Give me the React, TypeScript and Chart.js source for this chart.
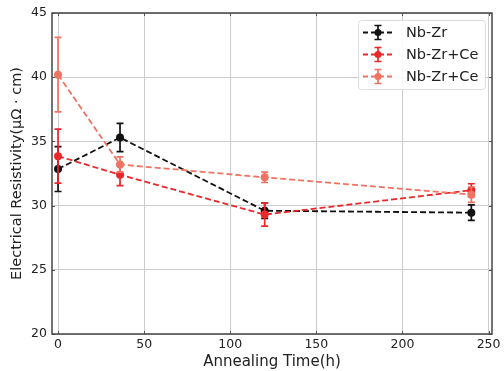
import React, { useEffect, useRef } from "react";
import { Chart, registerables } from "chart.js";

Chart.register(...registerables);

const times = [0, 36, 120, 240];
const seriesLabels = ["Nb-Zr", "Nb-Zr+Ce", "Nb-Zr+Ce"];
const nbZr = [32.85, 35.3, 29.6, 29.45];
const nbZrErr = [1.75, 1.1, 0.6, 0.6];
const nbZrCe1 = [33.85, 32.4, 29.3, 31.2];
const nbZrCe1Err = [2.1, 0.85, 0.9, 0.5];
const nbZrCe2 = [40.2, 33.2, 32.2, 30.85];
const nbZrCe2Err = [2.9, 0.6, 0.4, 0.6];
const xTicks = [0, 50, 100, 150, 200, 250];
const yTicks = [20, 25, 30, 35, 40, 45];

const colors = ["#111111", "#e8282a", "#f07262"];
const errs = [nbZrErr, nbZrCe1Err, nbZrCe2Err];
const FONT = "'DejaVu Sans', sans-serif";

function drawErrorBar(ctx: CanvasRenderingContext2D, x: number, yTop: number, yBot: number, color: string) {
  ctx.save();
  ctx.strokeStyle = color;
  ctx.lineWidth = 1.7;
  ctx.setLineDash([]);
  ctx.beginPath();
  ctx.moveTo(x, yTop);
  ctx.lineTo(x, yBot);
  ctx.moveTo(x - 3.5, yTop);
  ctx.lineTo(x + 3.5, yTop);
  ctx.moveTo(x - 3.5, yBot);
  ctx.lineTo(x + 3.5, yBot);
  ctx.stroke();
  ctx.restore();
}

const errorBarPlugin = {
  id: "errorBars",
  beforeDatasetDraw(chart: any, args: any) {
    const i = args.index;
    const ds = chart.data.datasets[i];
    const e = errs[i];
    const xs = chart.scales.x;
    const ys = chart.scales.y;
    const ctx = chart.ctx;
    ds.data.forEach((p: any, j: number) => {
      const x = xs.getPixelForValue(p.x);
      drawErrorBar(ctx, x, ys.getPixelForValue(p.y + e[j]), ys.getPixelForValue(p.y - e[j]), colors[i]);
    });
  },
};

const legendPlugin = {
  id: "customLegend",
  afterDraw(chart: any) {
    const ctx = chart.ctx;
    const left = 358, top = 20, w = 127, h = 69;
    ctx.save();
    ctx.fillStyle = "rgba(255,255,255,0.85)";
    ctx.strokeStyle = "#dddddd";
    ctx.lineWidth = 1;
    ctx.beginPath();
    ctx.roundRect(left + 0.5, top + 0.5, w, h, 3);
    ctx.fill();
    ctx.stroke();
    chart.data.datasets.forEach((ds: any, i: number) => {
      const y = 32.5 + i * 22;
      ctx.strokeStyle = colors[i];
      ctx.lineWidth = 1.8;
      ctx.setLineDash([5, 3]);
      ctx.beginPath();
      ctx.moveTo(363, y);
      ctx.lineTo(394, y);
      ctx.stroke();
      drawErrorBar(ctx, 378, y - 7, y + 7, colors[i]);
      ctx.fillStyle = colors[i];
      ctx.beginPath();
      ctx.arc(378, y, 3.5, 0, Math.PI * 2);
      ctx.fill();
      ctx.fillStyle = "#222222";
      ctx.font = `14.5px ${FONT}`;
      ctx.textBaseline = "middle";
      ctx.textAlign = "left";
      ctx.fillText(ds.label, 406, y + 1);
    });
    ctx.restore();
  },
};

const borderPlugin = {
  id: "frame",
  afterDatasetsDraw(chart: any) {
    const { left, top, right, bottom } = chart.chartArea;
    const ctx = chart.ctx;
    const xs = chart.scales.x;
    const ys = chart.scales.y;
    ctx.save();
    ctx.strokeStyle = "#555555";
    ctx.lineWidth = 1;
    ctx.beginPath();
    xTicks.forEach((v) => {
      const px = Math.round(xs.getPixelForValue(v)) + 0.5;
      ctx.moveTo(px, bottom);
      ctx.lineTo(px, bottom - 3);
      ctx.moveTo(px, top);
      ctx.lineTo(px, top + 3);
    });
    yTicks.forEach((v) => {
      const py = Math.round(ys.getPixelForValue(v)) + 0.5;
      ctx.moveTo(left, py);
      ctx.lineTo(left + 3, py);
      ctx.moveTo(right, py);
      ctx.lineTo(right - 3, py);
    });
    ctx.stroke();
    ctx.strokeStyle = "#444444";
    ctx.lineWidth = 1.5;
    ctx.strokeRect(left, top, right - left, bottom - top);
    ctx.restore();
  },
};

export default function App() {
  const ref = useRef<HTMLCanvasElement>(null);
  useEffect(() => {
    const series = [nbZr, nbZrCe1, nbZrCe2];
    const chart = new Chart(ref.current!, {
      type: "scatter",
      data: {
        datasets: series.map((s, i) => ({
          label: seriesLabels[i],
          data: times.map((t, j) => ({ x: t, y: s[j] })),
          showLine: true,
          borderColor: colors[i],
          backgroundColor: colors[i],
          borderWidth: 1.8,
          borderDash: [6, 3],
          pointRadius: 4,
          pointBorderWidth: 0,
          order: 3 - i,
        })),
      },
      options: {
        animation: false,
        responsive: false,
        layout: { padding: { top: 13, right: 12, left: 0, bottom: 0 } },
        plugins: { legend: { display: false }, tooltip: { enabled: false } },
        scales: {
          x: {
            type: "linear",
            min: -3.5,
            max: 252,
            afterBuildTicks: (s: any) => {
              s.ticks = xTicks.map((v) => ({ value: v }));
            },
            afterFit: (s: any) => {
              s.height = 37;
            },
            grid: { color: "#cccccc", lineWidth: 1, drawTicks: false },
            border: { display: false },
            ticks: { color: "#222222", font: { family: FONT, size: 12.5 }, padding: 3 },
            title: {
              display: true,
              text: "Annealing Time(h)",
              color: "#222222",
              font: { family: FONT, size: 15 },
              padding: { top: 0, bottom: 0 },
            },
          },
          y: {
            type: "linear",
            min: 20,
            max: 45,
            afterBuildTicks: (s: any) => {
              s.ticks = yTicks.map((v) => ({ value: v }));
            },
            afterFit: (s: any) => {
              s.width = 52;
            },
            grid: { color: "#cccccc", lineWidth: 1, drawTicks: false },
            border: { display: false },
            ticks: { color: "#222222", font: { family: FONT, size: 12.5 }, padding: 5 },
            title: {
              display: true,
              text: "Electrical Resistivity(μΩ · cm)",
              color: "#222222",
              font: { family: FONT, size: 14.5 },
              padding: { top: 9, bottom: 0 },
            },
          },
        },
      },
      plugins: [errorBarPlugin, borderPlugin, legendPlugin],
    } as any);
    return () => chart.destroy();
  }, []);
  return (
    <div style={{ position: "fixed", left: 0, top: 0, width: 504, height: 371, background: "#fff" }}>
      <canvas ref={ref} width={504} height={371} style={{ width: 504, height: 371 }} />
    </div>
  );
}
